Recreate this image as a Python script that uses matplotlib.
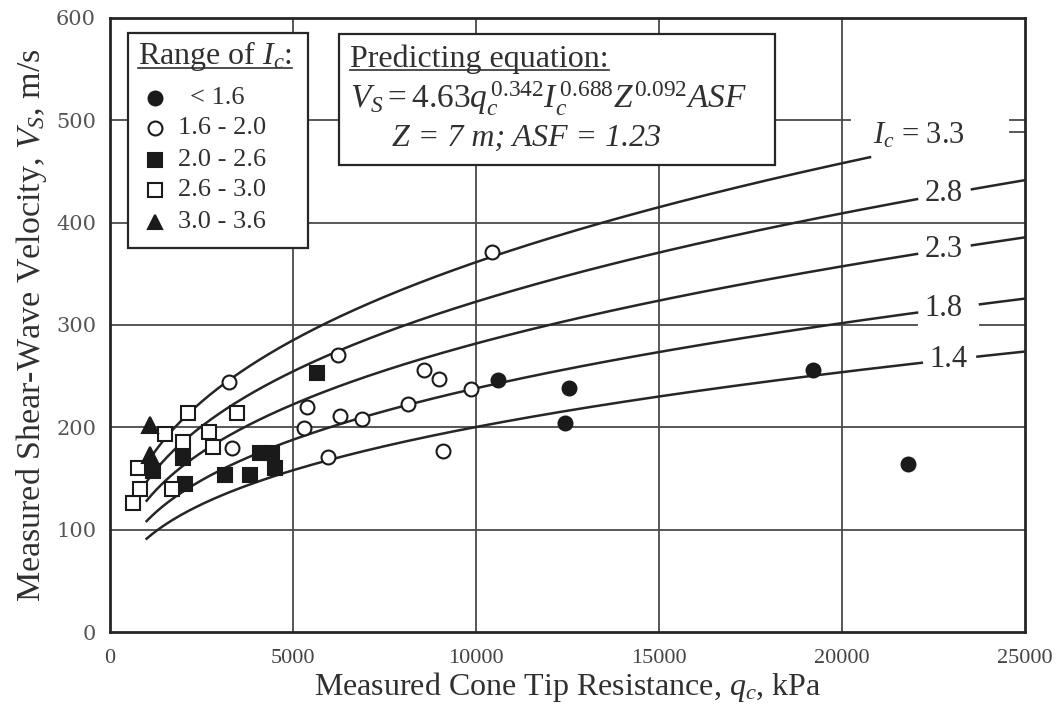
import numpy as np
import matplotlib
matplotlib.use('Agg')
import matplotlib.pyplot as plt
from matplotlib.patches import Rectangle

# ---------------- data ----------------
lt16_qc = [10609, 12549, 12432, 19216, 21811]
lt16_vs = [246, 238, 204, 256, 164]
r16_20_qc = [3259, 3325, 5309, 5374, 5964, 6238, 6284, 6877, 8150, 8579, 8997, 9090, 9855, 10437]
r16_20_vs = [244, 180, 199, 220, 171, 271, 211, 208, 223, 256, 247, 177, 237, 371]
r20_26_qc = [1184, 2003, 2049, 3142, 3825, 4098, 4418, 4508, 5664]
r20_26_vs = [157, 170, 145, 153, 153, 175, 175, 160, 253]
r26_30_qc = [637, 773, 820, 1503, 1686, 2003, 2140, 2705, 2806, 3462]
r26_30_vs = [126, 160, 140, 193, 140, 186, 214, 195, 181, 214]
r30_36_qc = [1093, 1093]
r30_36_vs = [202, 173]

legend_labels = ['< 1.6', '1.6 - 2.0', '2.0 - 2.6', '2.6 - 3.0', '3.0 - 3.6']

# predicting equation  Vs = a * qc^b * Ic^c * Z^d * ASF
eq_a, eq_b, eq_c, eq_d = 4.63, 0.342, 0.688, 0.092
eq_Z, eq_ASF = 7.0, 1.23
curve_ic = [3.3, 2.8, 2.3, 1.8, 1.4]
curve_text = ['$I_c$ = 3.3', '2.8', '2.3', '1.8', '1.4']

x_ticks = [0, 5000, 10000, 15000, 20000, 25000]
y_ticks = [0, 100, 200, 300, 400, 500, 600]

# ---------------- style ----------------
plt.rcParams['font.family'] = ['Liberation Serif', 'DejaVu Serif']
plt.rcParams['mathtext.fontset'] = 'custom'
plt.rcParams['mathtext.rm'] = 'Liberation Serif'
plt.rcParams['mathtext.it'] = 'Liberation Serif:italic'
plt.rcParams['mathtext.bf'] = 'Liberation Serif:bold'

TXT = '#303030'
LN = '#262626'
GR = '#4a4a4a'

fig = plt.figure(figsize=(10.57, 7.11), dpi=100)
ax = fig.add_axes([110 / 1057, 1 - 632 / 711, 915 / 1057, 614 / 711])
ax.set_xlim(0, 25000)
ax.set_ylim(0, 600)

for s in ax.spines.values():
    s.set_color(LN)
    s.set_linewidth(2.0)

ax.set_xticks(x_ticks)
ax.set_yticks(y_ticks)
ax.tick_params(length=0, colors=TXT)
ax.tick_params(axis='x', labelsize=16, pad=12)
ax.tick_params(axis='y', labelsize=15, pad=10)
for t in ax.get_yticklabels():
    t.set_family('DejaVu Serif')
    t.set_color('#555555')
for t in ax.get_xticklabels():
    t.set_color('#444444')

ax.set_xlabel('Measured Cone Tip Resistance, $q_c$, kPa', fontsize=23, color=TXT, labelpad=2)
ax.set_ylabel('Measured Shear-Wave Velocity, $V_S$, m/s', fontsize=24.5, color=TXT, labelpad=5)

# ---------------- grid (drawn manually, with the breaks of the original) ----------------
glw = 1.3
for xv in [5000, 10000, 15000, 20000]:
    ax.plot([xv, xv], [0, 600], color=GR, lw=glw, zorder=1)
for yv in [100, 200, 400]:
    ax.plot([0, 25000], [yv, yv], color=GR, lw=glw, zorder=1)
ax.plot([0, 22050], [300, 300], color=GR, lw=glw, zorder=1)
ax.plot([23770, 25000], [300, 300], color=GR, lw=glw, zorder=1)
ax.plot([0, 20220], [500, 500], color=GR, lw=glw, zorder=1)
ax.plot([24600, 25000], [500, 500], color=GR, lw=glw, zorder=1)
ax.plot([24600, 25000], [489, 489], color=GR, lw=glw, zorder=1)


def vs_eq(qc, ic):
    return eq_a * np.power(qc, eq_b) * ic ** eq_c * eq_Z ** eq_d * eq_ASF


# ---------------- curves ----------------
breaks = {3.3: (20765, None), 2.8: (22050, 23550), 2.3: (22050, 23550),
          1.8: (22050, 23770), 1.4: (22180, 23700)}
for ic, lab in zip(curve_ic, curve_text):
    b1, b2 = breaks[ic]
    q1 = np.linspace(1000, b1, 300)
    ax.plot(q1, vs_eq(q1, ic), color=LN, lw=1.8, zorder=3)
    if b2 is not None:
        q2 = np.linspace(b2, 25000, 50)
        ax.plot(q2, vs_eq(q2, ic), color=LN, lw=1.8, zorder=3)
        ax.text(b1 + 200, vs_eq(b1 + 800, ic), lab, fontsize=22, color=TXT,
                ha='left', va='center', zorder=4)
    else:
        ax.text(b1 + 80, vs_eq(b1, ic) + 21, lab, fontsize=22, color=TXT,
                ha='left', va='center', zorder=4)

# ---------------- data points ----------------
ms = 10
mew = 1.5
ax.plot(lt16_qc, lt16_vs, 'o', ms=ms, mfc='#1a1a1a', mec='#1a1a1a', mew=mew, zorder=5, ls='none')
ax.plot(r16_20_qc, r16_20_vs, 'o', ms=ms, mfc='white', mec='#1a1a1a', mew=mew, zorder=5, ls='none')
ax.plot(r20_26_qc, r20_26_vs, 's', ms=ms, mfc='#1a1a1a', mec='#1a1a1a', mew=mew, zorder=5, ls='none')
ax.plot(r26_30_qc, r26_30_vs, 's', ms=ms, mfc='white', mec='#1a1a1a', mew=mew, zorder=5, ls='none')
ax.plot(r30_36_qc, r30_36_vs, '^', ms=ms + 1, mfc='#1a1a1a', mec='#1a1a1a', mew=mew, zorder=5, ls='none')

# ---------------- legend box ----------------
ax.add_patch(Rectangle((492, 375), 5410 - 492, 585 - 375, facecolor='white',
                       edgecolor=LN, lw=1.6, zorder=6))
t_leg = ax.text(765, 563, 'Range of $I_c$:', fontsize=23, color=TXT, ha='left',
                va='center', zorder=7)
row_y = [522, 492.5, 461, 432, 400.6]
styles = [('o', '#1a1a1a'), ('o', 'white'), ('s', '#1a1a1a'), ('s', 'white'), ('^', '#1a1a1a')]
for (m, fc), yv, lab in zip(styles, row_y, legend_labels):
    ax.plot([1230], [yv], m, ms=ms, mfc=fc, mec='#1a1a1a', mew=mew, zorder=7)
    xt = 2186 if lab.startswith('<') else 1858
    ax.text(xt, yv, lab, fontsize=19, color=TXT, ha='left', va='center', zorder=7)

# ---------------- equation box ----------------
ax.add_patch(Rectangle((6257, 456), 18170 - 6257, 584 - 456, facecolor='white',
                       edgecolor=LN, lw=1.6, zorder=6))
t_eq = ax.text(6557, 560, 'Predicting equation:', fontsize=23, color=TXT, ha='left',
               va='center', zorder=7)
ax.text(6557, 521, r'$V_S = 4.63q_c^{\,0.342}I_c^{\,0.688}Z^{0.092}ASF$', fontsize=24,
        color=TXT, ha='left', va='center', zorder=7)
ax.text(7705, 482, 'Z = 7 m; ASF = 1.23', fontsize=23, style='italic', color=TXT,
        ha='left', va='center', zorder=7)

# underlines
fig.canvas.draw()
r = fig.canvas.get_renderer()
inv = ax.transData.inverted()
for t, yline in [(t_leg, 551), (t_eq, 549)]:
    bb = t.get_window_extent(renderer=r)
    (x0, _), (x1, _) = inv.transform([[bb.x0, bb.y0], [bb.x1, bb.y1]])
    ax.plot([x0, x1], [yline, yline], color=TXT, lw=1.2, zorder=7)

fig.savefig('out.png', dpi=100, facecolor='white')
